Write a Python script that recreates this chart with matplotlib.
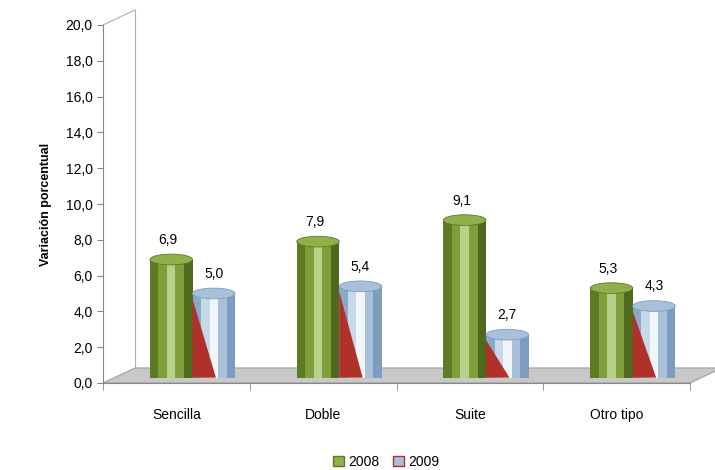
import matplotlib.pyplot as plt
from matplotlib.patches import Polygon, Rectangle, Ellipse
import numpy as np

categories = ["Sencilla", "Doble", "Suite", "Otro tipo"]
v2008 = [6.9, 7.9, 9.1, 5.3]
v2009 = [5.0, 5.4, 2.7, 4.3]

plt.rcParams['font.family'] = ['Liberation Sans', 'DejaVu Sans']

fig = plt.figure(figsize=(7.15, 4.70), dpi=100)
ax = fig.add_axes([103/715, 1-383/470, 587/715, 358/470])
ax.set_xlim(0, 4)
ax.set_ylim(0, 20)

dx, dy = 0.218, 0.84  # depth offset in data units

# floor and back wall edge
floor = Polygon([(0, 0), (4, 0), (4 + dx, dy), (dx, dy)], closed=True,
                facecolor='#c8c8c8', edgecolor='#a0a0a0', lw=0.8, zorder=1, clip_on=False)
ax.add_patch(floor)
ax.plot([dx, dx], [dy, 20 + dy], color='#b0b0b0', lw=0.8, clip_on=False, zorder=1)
ax.plot([0, dx], [20, 20 + dy], color='#b0b0b0', lw=0.8, clip_on=False, zorder=1)

w = 0.29
base = 0.3
for i, (a, b) in enumerate(zip(v2008, v2009)):
    x0 = i + 0.32
    # 2008 green bar with shading bands
    cols = ['#5d7a25', '#7e9f3a', '#b8d08a', '#7e9f3a', '#4f6a1e']
    n = len(cols)
    for k, c in enumerate(cols):
        ax.add_patch(Rectangle((x0 + k*w/n, base), w/n, a - base, facecolor=c,
                               edgecolor='none', zorder=3))
    ax.add_patch(Ellipse((x0 + w/2, a), w, 0.6, facecolor='#8fb04a',
                         edgecolor='#5d7a25', lw=0.6, zorder=4))
    ax.text(x0 + w/2 - 0.02, a + 0.7, f"{a:.1f}".replace('.', ','), ha='center',
            va='bottom', fontsize=10)
    # 2009 blue/red bar
    x1 = x0 + w
    bcols = ['#8aa8c8', '#c6d8ea', '#f2f6fa', '#a8c0da', '#7d9cc0']
    for k, c in enumerate(bcols):
        ax.add_patch(Rectangle((x1 + k*w/n, base), w/n, b - base, facecolor=c,
                               edgecolor='none', zorder=3))
    ax.add_patch(Polygon([(x1, base), (x1, b - 0.3), (x1 + w*0.55, base)],
                         closed=True, facecolor='#b0302a', edgecolor='none', zorder=3.5))
    ax.add_patch(Ellipse((x1 + w/2, b), w, 0.6, facecolor='#a8c0da',
                         edgecolor='#7d9cc0', lw=0.6, zorder=4))
    ax.text(x1 + w/2, b + 0.7, f"{b:.1f}".replace('.', ','), ha='center',
            va='bottom', fontsize=10)

ax.set_yticks(np.arange(0, 21, 2))
ax.set_yticklabels([f"{t:.1f}".replace('.', ',') for t in np.arange(0, 21, 2)], fontsize=10)
ax.set_xticks([0.5, 1.5, 2.5, 3.5])
ax.set_xticklabels(categories, fontsize=10)
ax.tick_params(axis='x', length=0, pad=18)
ax.tick_params(axis='y', length=4, color='#888888')
ax.set_xticks([0, 1, 2, 3, 4], minor=True)
ax.tick_params(axis='x', which='minor', length=5, color='#888888')
for s in ['top', 'right']:
    ax.spines[s].set_visible(False)
ax.spines['left'].set_color('#888888')
ax.spines['bottom'].set_color('#888888')
ax.set_ylabel("Variación porcentual", fontsize=9, fontweight='bold', labelpad=10)

h1 = Rectangle((0, 0), 1, 1, facecolor='#8fb04a', edgecolor='#5d7a25')
h2 = Rectangle((0, 0), 1, 1, facecolor='#a8c0da', edgecolor='#b0302a')
fig.legend([h1, h2], ["2008", "2009"], loc='center', bbox_to_anchor=(0.54, 1-462/470),
           ncol=2, frameon=False, fontsize=10, handlelength=0.8, handleheight=0.8,
           columnspacing=1.0, handletextpad=0.3)

fig.savefig("out.png", dpi=100)
